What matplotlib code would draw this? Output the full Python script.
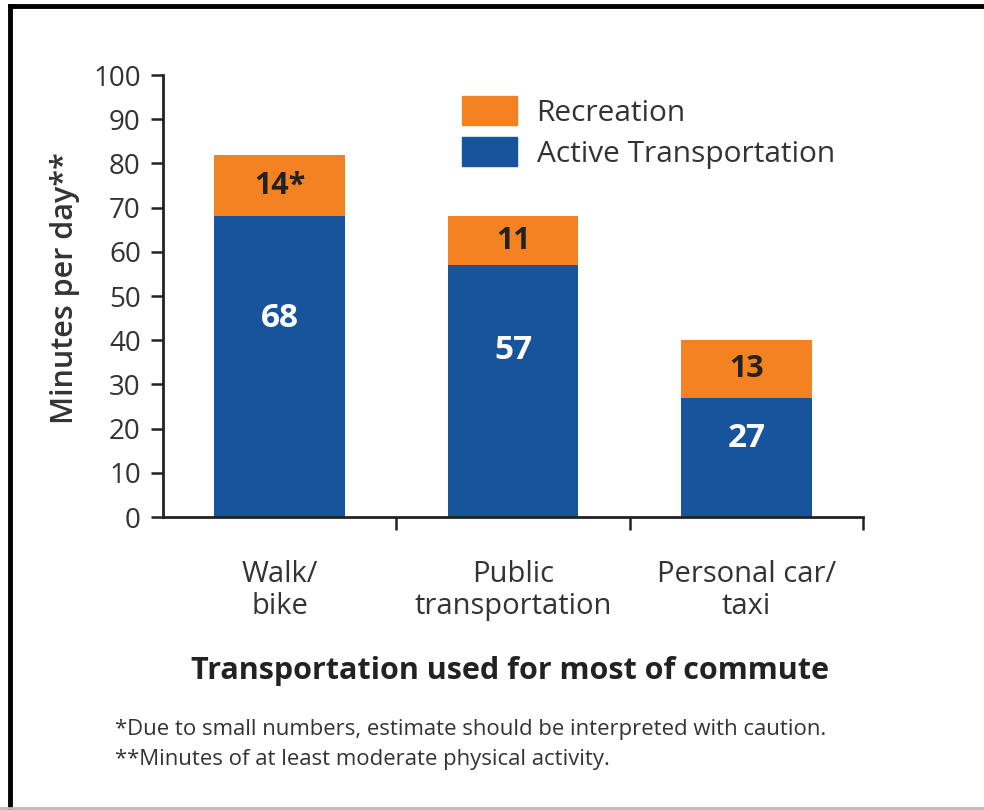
import numpy as np
import matplotlib.pyplot as plt
import matplotlib.patches as mpatches

categories = ["Walk/\nbike", "Public\ntransportation", "Personal car/\ntaxi"]
active = [68, 57, 27]
recreation = [14, 11, 13]
rec_labels = ["14*", "11", "13"]
yticks = [0, 10, 20, 30, 40, 50, 60, 70, 80, 90, 100]

orange = "#F58220"
blue = "#17549B"
txt = "#333333"

plt.rcParams['font.family'] = ['Open Sans', 'DejaVu Sans']

fig = plt.figure(figsize=(9.84, 8.10), dpi=100)
ax = fig.add_axes([0.1657, 0.3617, 0.877 - 0.1657, 0.9074 - 0.3617])

x = np.arange(len(categories))
w = 0.56
ax.bar(x, active, w, color=blue, label="Active Transportation")
ax.bar(x, recreation, w, bottom=active, color=orange, label="Recreation")

for i in range(len(x)):
    ax.text(x[i], active[i] * 0.66, str(active[i]), ha="center", va="center",
            color="white", fontsize=24, fontweight="bold")
    ax.text(x[i], active[i] + recreation[i] / 2, rec_labels[i], ha="center", va="center",
            color="#222222", fontsize=22, fontweight="bold")

ax.set_xlim(-0.5, 2.5)
ax.set_ylim(0, 100)
ax.spines["top"].set_visible(False)
ax.spines["right"].set_visible(False)
for s in ["left", "bottom"]:
    ax.spines[s].set_linewidth(2)
    ax.spines[s].set_color("#222222")

ax.set_yticks(yticks)
ax.tick_params(axis="y", length=9, width=1.8, color="#222222", labelsize=20,
               labelcolor=txt, pad=7)
ax.set_xticks(x)
ax.set_xticklabels(categories)
ax.set_xticks([0.5, 1.5, 2.5], minor=True)
ax.tick_params(axis="x", which="major", length=0, labelsize=21, labelcolor=txt, pad=31)
ax.tick_params(axis="x", which="minor", length=9, width=1.8, color="#222222")
for lab in ax.get_xticklabels():
    lab.set_linespacing(1.15)

ax.set_ylabel("Minutes per day**", fontsize=22, color=txt, fontweight="semibold")
ax.yaxis.set_label_coords(-0.119, 0.518)

h = [mpatches.Patch(color=orange), mpatches.Patch(color=blue)]
leg = ax.legend(h, ["Recreation", "Active Transportation"], loc="upper left",
                bbox_to_anchor=(0.427, 0.953), frameon=False, fontsize=21.5, borderpad=0,
                borderaxespad=0, handlelength=1.85, handleheight=1.15, handletextpad=0.65,
                labelspacing=0.3, labelcolor=txt)

fig.text(0.518, 0.172, "Transportation used for most of commute", ha="center", va="center",
         fontsize=22, fontweight="bold", color="#222222")
fig.text(0.117, 0.099, "*Due to small numbers, estimate should be interpreted with caution.",
         ha="left", va="center", fontsize=15.9, color=txt)
fig.text(0.117, 0.062, "**Minutes of at least moderate physical activity.",
         ha="left", va="center", fontsize=15.9, color=txt)

# frame round the figure
fig.add_artist(plt.Line2D([0.01, 0.01], [0.0, 0.992], color="black", lw=3.5, transform=fig.transFigure))
fig.add_artist(plt.Line2D([0.01, 1.0], [0.992, 0.992], color="black", lw=3.5, transform=fig.transFigure))
fig.add_artist(plt.Line2D([0.0, 1.0], [0.002, 0.002], color="#bbbbbb", lw=2, transform=fig.transFigure))

fig.savefig("out.png", dpi=100)
